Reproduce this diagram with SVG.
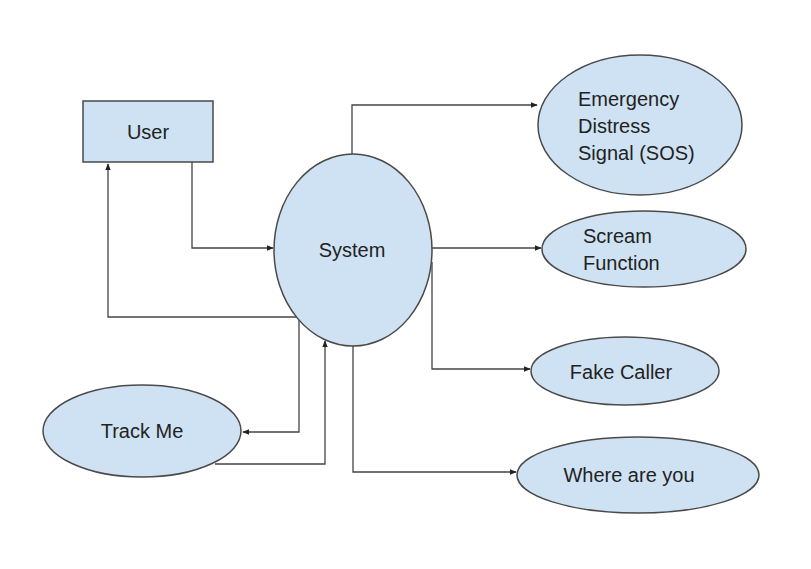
<svg xmlns="http://www.w3.org/2000/svg" width="811" height="569" viewBox="0 0 811 569">
<style>
.node{fill:#cfe2f3;stroke:#4a4a4a;stroke-width:1.5}
.lbl{font-family:"Liberation Sans",Arial,sans-serif;font-size:20px;fill:#222}
.c{text-anchor:middle}
.conn{fill:none;stroke:#444;stroke-width:1.3}
</style>
<defs>
<marker id="arr" viewBox="0 0 10 10" refX="9" refY="5" markerWidth="7" markerHeight="7" orient="auto" markerUnits="userSpaceOnUse">
<path d="M0,1 L10,5 L0,9 z" fill="#222"/>
</marker>
</defs>
<rect width="811" height="569" fill="#fff"/>
<g id="connectors">
<path class="conn" d="M192,162 V248 H273" marker-end="url(#arr)"/>
<path class="conn" d="M298,317 H108 V164" marker-end="url(#arr)"/>
<path class="conn" d="M352,154 V105 H537" marker-end="url(#arr)"/>
<path class="conn" d="M432,248 H541" marker-end="url(#arr)"/>
<path class="conn" d="M432,262 V369 H530" marker-end="url(#arr)"/>
<path class="conn" d="M353,345 V472 H516" marker-end="url(#arr)"/>
<path class="conn" d="M299,317 V432 H243" marker-end="url(#arr)"/>
<path class="conn" d="M215,464 H325 V341" marker-end="url(#arr)"/>
</g>
<g id="user">
<rect class="node" x="83" y="101" width="130" height="61"/>
<text class="lbl c" x="148" y="139">User</text>
</g>
<g id="system">
<ellipse class="node" cx="353" cy="250" rx="79" ry="96"/>
<text class="lbl c" x="352" y="257">System</text>
</g>
<g id="sos">
<ellipse class="node" cx="640" cy="125" rx="102" ry="70"/>
<text class="lbl" x="578" y="106">Emergency</text>
<text class="lbl" x="578" y="133">Distress</text>
<text class="lbl" x="578" y="160">Signal (SOS)</text>
</g>
<g id="scream">
<ellipse class="node" cx="644" cy="249" rx="102" ry="38"/>
<text class="lbl" x="583" y="243">Scream</text>
<text class="lbl" x="583" y="270">Function</text>
</g>
<g id="fakecaller">
<ellipse class="node" cx="625" cy="371" rx="94" ry="34"/>
<text class="lbl c" x="621" y="379">Fake Caller</text>
</g>
<g id="whereareyou">
<ellipse class="node" cx="638" cy="475" rx="121" ry="38"/>
<text class="lbl c" x="629" y="482">Where are you</text>
</g>
<g id="trackme">
<ellipse class="node" cx="142" cy="431" rx="99" ry="46"/>
<text class="lbl c" x="142" y="438">Track Me</text>
</g>
</svg>
